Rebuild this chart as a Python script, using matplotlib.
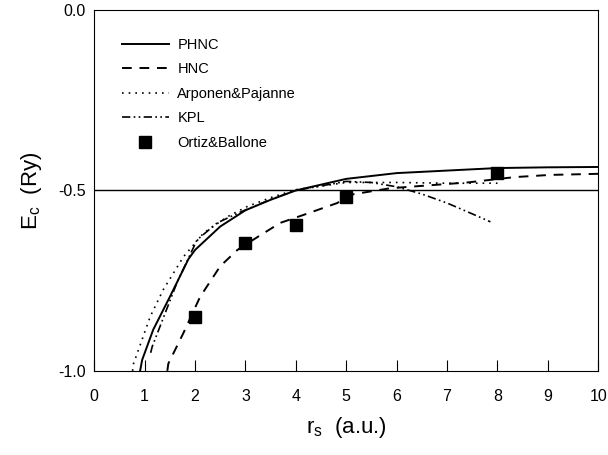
import numpy as np
import matplotlib.pyplot as plt

plt.rcParams['font.family'] = ['Liberation Sans', 'DejaVu Sans']

# PHNC (solid)
rs_phnc = [0.91, 0.95, 1.17, 1.5, 1.87, 2.0, 2.5, 3.0, 3.5, 4.0, 5.0, 6.0, 7.0, 8.0, 9.0, 10.0]
ec_phnc = [-1.0, -0.97, -0.886, -0.795, -0.69, -0.665, -0.6, -0.555, -0.526, -0.50,
           -0.468, -0.452, -0.445, -0.438, -0.436, -0.435]

# HNC (dashed)
rs_hnc = [1.45, 1.47, 1.77, 2.1, 2.5, 2.84, 3.23, 3.69, 4.15, 4.82, 5.08, 5.87, 7.4, 8.35, 9.05, 10.0]
ec_hnc = [-1.0, -0.98, -0.895, -0.795, -0.71, -0.665, -0.63, -0.59, -0.568, -0.535,
          -0.512, -0.494, -0.478, -0.463, -0.457, -0.454]

# Arponen&Pajanne (dotted)
rs_ap = [0.76, 0.78, 1.11, 1.37, 1.77, 2.17, 2.64, 3.03, 3.5, 4.0, 5.0, 6.0, 7.0, 8.0]
ec_ap = [-1.0, -0.98, -0.85, -0.775, -0.684, -0.618, -0.573, -0.545, -0.52, -0.498,
         -0.478, -0.478, -0.48, -0.48]

# KPL (dash-dot-dot)
rs_kpl = [1.12, 1.15, 1.64, 2.04, 2.44, 2.9, 3.5, 4.0, 5.0, 5.5, 6.0, 6.5, 7.0, 7.5, 7.86]
ec_kpl = [-0.95, -0.933, -0.756, -0.637, -0.59, -0.56, -0.525, -0.5, -0.475, -0.478,
          -0.49, -0.51, -0.535, -0.565, -0.587]

# Ortiz&Ballone (squares)
rs_ob = [2, 3, 4, 5, 8]
ec_ob = [-0.85, -0.645, -0.596, -0.518, -0.452]

fig = plt.figure(figsize=(6.08, 4.55), dpi=100)
ax = fig.add_axes([0.155, 0.185, 0.829, 0.793])

ax.axhline(-0.5, color='black', lw=1.0)
ax.plot(rs_phnc, ec_phnc, color='black', lw=1.4, ls='-', label='PHNC')
ax.plot(rs_hnc, ec_hnc, color='black', lw=1.4, ls=(0, (5, 4)), label='HNC')
ax.plot(rs_ap, ec_ap, color='black', lw=1.2, ls=(0, (1, 3)), label='Arponen&Pajanne')
ax.plot(rs_kpl, ec_kpl, color='black', lw=1.2, ls=(0, (5, 2, 1, 2, 1, 2)), label='KPL')
ax.plot(rs_ob, ec_ob, ls='none', marker='s', ms=9, color='black', label='Ortiz&Ballone')

ax.set_xlim(0, 10)
ax.set_ylim(-1.0, 0.0)
ax.set_xticks(range(0, 11))
ax.set_yticks([-1.0, -0.5, 0.0])
ax.set_yticklabels(['-1.0', '-0.5', '0.0'])
ax.tick_params(axis='x', direction='in', length=8, labelsize=11.5, pad=13)
ax.tick_params(axis='y', direction='in', length=0, labelsize=11.5, pad=6)

ax.set_xlabel(r'r$_\mathregular{s}$  (a.u.)', fontsize=16, labelpad=8)
ax.set_ylabel(r'E$_\mathregular{c}$  (Ry)', fontsize=16, labelpad=10)

ax.legend(loc='upper left', frameon=False, fontsize=10.5, handlelength=3.2,
          handletextpad=0.6, labelspacing=0.72, borderaxespad=1.5)

fig.savefig('out.png', dpi=100)
